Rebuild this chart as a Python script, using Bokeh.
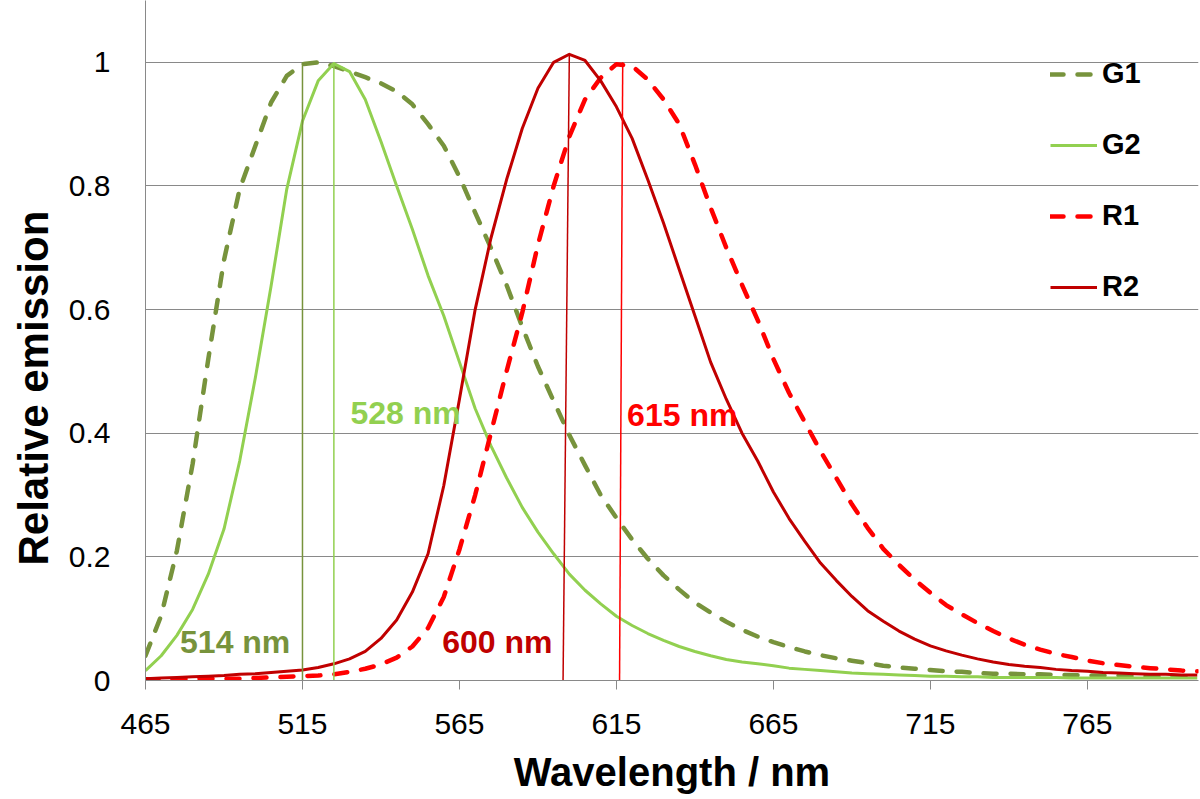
from bokeh.plotting import figure
from bokeh.models import FixedTicker, Range1d, Label, Legend, LegendItem, Title
from bokeh.embed import file_html
from bokeh.resources import INLINE

# ---------------- data ----------------
wavelength = list(range(465, 805, 5))

g1 = [0.040, 0.105, 0.21, 0.35, 0.52, 0.68, 0.795, 0.865, 0.935, 0.978,
      0.997, 1.0, 0.994, 0.985, 0.976, 0.966, 0.953, 0.932, 0.90, 0.865,
      0.815, 0.757, 0.70, 0.64, 0.572, 0.508, 0.452, 0.397, 0.348, 0.30,
      0.263, 0.228, 0.197, 0.17, 0.147, 0.126, 0.11, 0.095, 0.082, 0.071,
      0.062, 0.054, 0.047, 0.041, 0.036, 0.032, 0.028, 0.024, 0.021, 0.019,
      0.017, 0.015, 0.014, 0.012, 0.011, 0.011, 0.010, 0.010, 0.009, 0.009,
      0.008, 0.008, 0.008, 0.007, 0.007, 0.007, 0.006, 0.006]

g2 = [0.016, 0.040, 0.073, 0.115, 0.172, 0.245, 0.355, 0.49, 0.638, 0.795,
      0.905, 0.97, 0.998, 0.985, 0.94, 0.872, 0.80, 0.73, 0.655, 0.59,
      0.515, 0.44, 0.38, 0.328, 0.28, 0.24, 0.205, 0.172, 0.146, 0.124,
      0.104, 0.089, 0.076, 0.065, 0.055, 0.047, 0.040, 0.034, 0.030, 0.027,
      0.024, 0.020, 0.018, 0.016, 0.014, 0.012, 0.011, 0.010, 0.009, 0.008,
      0.007, 0.007, 0.006, 0.006, 0.005, 0.005, 0.005, 0.005, 0.005, 0.004,
      0.004, 0.004, 0.004, 0.004, 0.004, 0.004, 0.004, 0.004]

r1 = [0.002, 0.002, 0.002, 0.003, 0.003, 0.003, 0.003, 0.004, 0.005, 0.006,
      0.007, 0.008, 0.010, 0.014, 0.019, 0.026, 0.037, 0.055, 0.085, 0.135,
      0.212, 0.30, 0.40, 0.50, 0.595, 0.705, 0.80, 0.88, 0.94, 0.975,
      0.997, 0.994, 0.972, 0.94, 0.90, 0.835, 0.765, 0.70, 0.64, 0.583,
      0.52, 0.465, 0.418, 0.371, 0.328, 0.285, 0.247, 0.213, 0.187, 0.163,
      0.142, 0.122, 0.107, 0.093, 0.080, 0.068, 0.058, 0.050, 0.043, 0.038,
      0.032, 0.028, 0.025, 0.022, 0.020, 0.018, 0.016, 0.015]

r2 = [0.003, 0.004, 0.005, 0.006, 0.007, 0.008, 0.010, 0.011, 0.013, 0.015,
      0.017, 0.021, 0.027, 0.035, 0.047, 0.068, 0.098, 0.143, 0.205, 0.315,
      0.455, 0.60, 0.715, 0.81, 0.893, 0.958, 1.0, 1.013, 1.003, 0.97,
      0.928, 0.877, 0.81, 0.74, 0.665, 0.59, 0.515, 0.455, 0.40, 0.355,
      0.305, 0.262, 0.225, 0.19, 0.162, 0.136, 0.113, 0.096, 0.080, 0.067,
      0.056, 0.048, 0.041, 0.035, 0.030, 0.026, 0.023, 0.021, 0.018, 0.016,
      0.015, 0.013, 0.012, 0.011, 0.010, 0.010, 0.009, 0.009]

series_names = ["G1", "G2", "R1", "R2"]

# peak marker lines (wavelength at bottom, at top, relative emission at top)
peak_x_bottom = [515, 525, 598, 616]
peak_x_top = [515, 525, 600, 617]
peak_top = [1.0, 1.0, 1.013, 1.0]

# peak annotations
ann_text = ["514 nm", "528 nm", "600 nm", "615 nm"]
ann_x = [476.0, 530.3, 559.5, 618.4]
ann_y = [0.063, 0.432, 0.063, 0.430]

x_ticks = [465, 515, 565, 615, 665, 715, 765]
y_ticks = [0, 0.2, 0.4, 0.6, 0.8, 1.0]
y_tick_labels = ["0", "0.2", "0.4", "0.6", "0.8", "1"]

x_title = "Wavelength / nm"
y_title = "Relative emission"

# ---------------- styles ----------------
FONT = "Liberation Sans"
C_G1, C_G2, C_R1, C_R2 = "#77933C", "#92D050", "#FF0000", "#C00000"
GRID = "#898989"

p = figure(width=1200, height=799, output_backend="svg", toolbar_location=None,
           x_range=Range1d(465, 800.4), y_range=Range1d(0, 1.1),
           min_border_left=145, min_border_right=2, min_border_top=0,
           min_border_bottom=119)
p.outline_line_color = None
p.background_fill_color = "white"

# axes
p.xaxis.ticker = FixedTicker(ticks=x_ticks)
p.yaxis.ticker = FixedTicker(ticks=y_ticks)
p.yaxis.major_label_overrides = {t: s for t, s in zip(y_ticks, y_tick_labels)}
for ax in (p.xaxis, p.yaxis):
    ax.axis_line_color = GRID
    ax.axis_line_width = 1
    ax.major_tick_line_color = GRID
    ax.minor_tick_line_color = None
    ax.major_tick_in = 0
    ax.major_label_text_font = FONT
    ax.major_label_text_font_size = "30px"
    ax.major_label_text_color = "black"
p.xaxis.major_tick_out = 9
p.xaxis.major_label_standoff = 24
p.yaxis.major_tick_out = 0
p.yaxis.major_label_standoff = 35

p.xaxis.axis_label = x_title
p.xaxis.axis_label_text_font = FONT
p.xaxis.axis_label_text_font_size = "40px"
p.xaxis.axis_label_text_font_style = "bold"
p.xaxis.axis_label_text_color = "black"
p.xaxis.axis_label_standoff = 13

# y-axis title (placed as a side title so it can sit where the reference has it)
p.add_layout(Title(text=y_title, align="left", vertical_align="middle",
                   offset=115, standoff=15,
                   text_font=FONT, text_font_size="42px", text_font_style="bold",
                   text_color="black"), "left")

# grid
p.xgrid.grid_line_color = None
p.ygrid.ticker = FixedTicker(ticks=y_ticks[1:])
p.ygrid.grid_line_color = GRID
p.ygrid.grid_line_width = 1

# series
dash = "13 14"
l_g1 = p.line(wavelength, g1, line_color=C_G1, line_width=4.5, line_dash=dash,
              line_cap="round", line_join="round")
l_g2 = p.line(wavelength, g2, line_color=C_G2, line_width=3, line_join="round")
l_r1 = p.line(wavelength, r1, line_color=C_R1, line_width=4.5, line_dash=dash,
              line_cap="round", line_join="round")
l_r2 = p.line(wavelength, r2, line_color=C_R2, line_width=3, line_join="round")

# peak markers
p.segment(x0=peak_x_bottom, y0=[0] * 4, x1=peak_x_top, y1=peak_top,
          line_color=[C_G1, C_G2, C_R2, C_R1], line_width=1.5)

# annotations
for t, x, y, c in zip(ann_text, ann_x, ann_y, [C_G1, C_G2, C_R2, C_R1]):
    p.add_layout(Label(x=x, y=y, text=t, text_font=FONT, text_font_size="32px",
                       text_font_style="bold", text_color=c,
                       text_align="left", text_baseline="alphabetic"))

legend = Legend(items=[LegendItem(label=n, renderers=[r]) for n, r in
                       zip(series_names, [l_g1, l_g2, l_r1, l_r2])],
                location=(905, 377), orientation="vertical",
                glyph_width=47, glyph_height=30, label_height=30,
                label_standoff=5, spacing=38, padding=0, margin=0,
                border_line_color=None, background_fill_alpha=0,
                label_text_font=FONT, label_text_font_size="29px",
                label_text_font_style="bold", label_text_color="black")
p.add_layout(legend)

open("out.html", "w").write(file_html(p, INLINE))
